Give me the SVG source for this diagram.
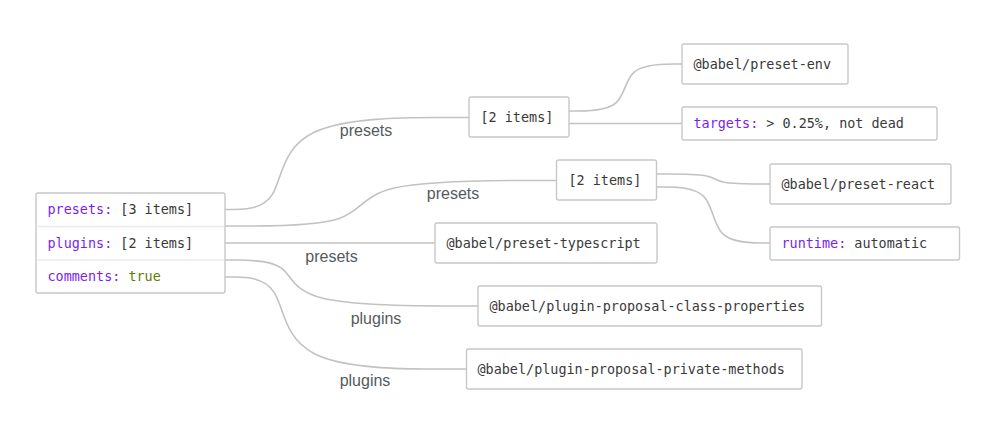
<svg xmlns="http://www.w3.org/2000/svg" width="1000" height="432" viewBox="0 0 1000 432">
<style>
.box{fill:#ffffff;stroke:#c8c8c8;stroke-width:1.4}
.div{stroke:#ebebeb;stroke-width:1.4}
.edge{fill:none;stroke:#c2c2c2;stroke-width:1.6}
.t{font-family:"DejaVu Sans Mono","Liberation Mono",monospace;font-size:13.45px;fill:#3a3a3a}
.k{fill:#7b1ef0}
.b{fill:#5e7d00}
.lbl{font-family:"Liberation Sans",Arial,sans-serif;font-size:16px;fill:#555a60;text-anchor:middle}
</style>
<rect width="1000" height="432" fill="#ffffff"/>
<g id="connectors">
<path class="edge" d="M225,209.5 L234.5,209.5 C244,209.5 263,209.5 272.5,194.17 C282,178.83 282,148.17 313.17,132.83 C344.33,117.5 406.67,117.5 437.83,117.5 L469,117.5"/>
<path class="edge" d="M225,226 L247.83,226 C270.67,226 316.33,226 339.17,218.42 C362,210.83 362,195.67 394.33,188.08 C426.67,180.5 491.33,180.5 523.67,180.5 L556,180.5"/>
<path class="edge" d="M225,243 L435,243"/>
<path class="edge" d="M225,260 L236.17,260 C247.33,260 269.67,260 280.83,267.67 C292,275.33 292,290.67 323,298.33 C354,306 416,306 447,306 L478,306"/>
<path class="edge" d="M225,277 L234.83,277 C244.67,277 264.33,277 274.17,292.33 C284,307.67 284,338.33 314.33,353.67 C344.67,369 405.33,369 435.67,369 L466,369"/>
<path class="edge" d="M569,111 L578.33,111 C587.67,111 606.33,111 615.67,103.17 C625,95.33 625,79.67 634.5,71.83 C644,64 663,64 672.5,64 L682,64"/>
<path class="edge" d="M569,123.5 L682,123.5"/>
<path class="edge" d="M657,174 L666.67,174 C676.33,174 695.67,174 705.33,175.67 C715,177.33 715,180.67 724.17,182.33 C733.33,184 751.67,184 760.83,184 L770,184"/>
<path class="edge" d="M657,187 L666.33,187 C675.67,187 694.33,187 703.67,196.33 C713,205.67 713,224.33 722.5,233.67 C732,243 751,243 760.5,243 L770,243"/>
<text class="lbl" x="366" y="136">presets</text>
<text class="lbl" x="453" y="198.5">presets</text>
<text class="lbl" x="331.5" y="261.5">presets</text>
<text class="lbl" x="376" y="323.5">plugins</text>
<text class="lbl" x="365" y="386">plugins</text>
</g>
<g id="root">
<rect class="box" x="36" y="193" width="189" height="100" rx="2"/>
<line class="div" x1="37" y1="226.5" x2="224" y2="226.5"/>
<line class="div" x1="37" y1="260" x2="224" y2="260"/>
<text class="t" x="47.5" y="214"><tspan class="k">presets:</tspan> [3 items]</text>
<text class="t" x="47.5" y="247.5"><tspan class="k">plugins:</tspan> [2 items]</text>
<text class="t" x="47.5" y="281"><tspan class="k">comments:</tspan> <tspan class="b">true</tspan></text>
</g>
<g id="presets-array">
<rect class="box" x="469" y="97" width="100" height="40" rx="2"/>
<text class="t" x="480.5" y="121.5">[2 items]</text>
</g>
<g id="preset-env">
<rect class="box" x="682" y="44" width="166" height="40" rx="2"/>
<text class="t" x="693.5" y="68.5">@babel/preset-env</text>
</g>
<g id="targets">
<rect class="box" x="682" y="107" width="255" height="33" rx="2"/>
<text class="t" x="693.5" y="128"><tspan class="k">targets:</tspan> &gt; 0.25%, not dead</text>
</g>
<g id="react-array">
<rect class="box" x="556.5" y="160" width="100" height="40" rx="2"/>
<text class="t" x="568.5" y="184.5">[2 items]</text>
</g>
<g id="preset-react">
<rect class="box" x="770" y="164" width="181" height="40" rx="2"/>
<text class="t" x="781.5" y="188.5">@babel/preset-react</text>
</g>
<g id="runtime">
<rect class="box" x="770" y="227" width="189.5" height="33" rx="2"/>
<text class="t" x="781.5" y="248"><tspan class="k">runtime:</tspan> automatic</text>
</g>
<g id="preset-typescript">
<rect class="box" x="435" y="223" width="222" height="40" rx="2"/>
<text class="t" x="446.5" y="247.5">@babel/preset-typescript</text>
</g>
<g id="plugin-class-properties">
<rect class="box" x="478" y="286" width="343.5" height="40" rx="2"/>
<text class="t" x="489.5" y="310.5">@babel/plugin-proposal-class-properties</text>
</g>
<g id="plugin-private-methods">
<rect class="box" x="466.5" y="349" width="335.5" height="40" rx="2"/>
<text class="t" x="477.5" y="373.5">@babel/plugin-proposal-private-methods</text>
</g>
</svg>
